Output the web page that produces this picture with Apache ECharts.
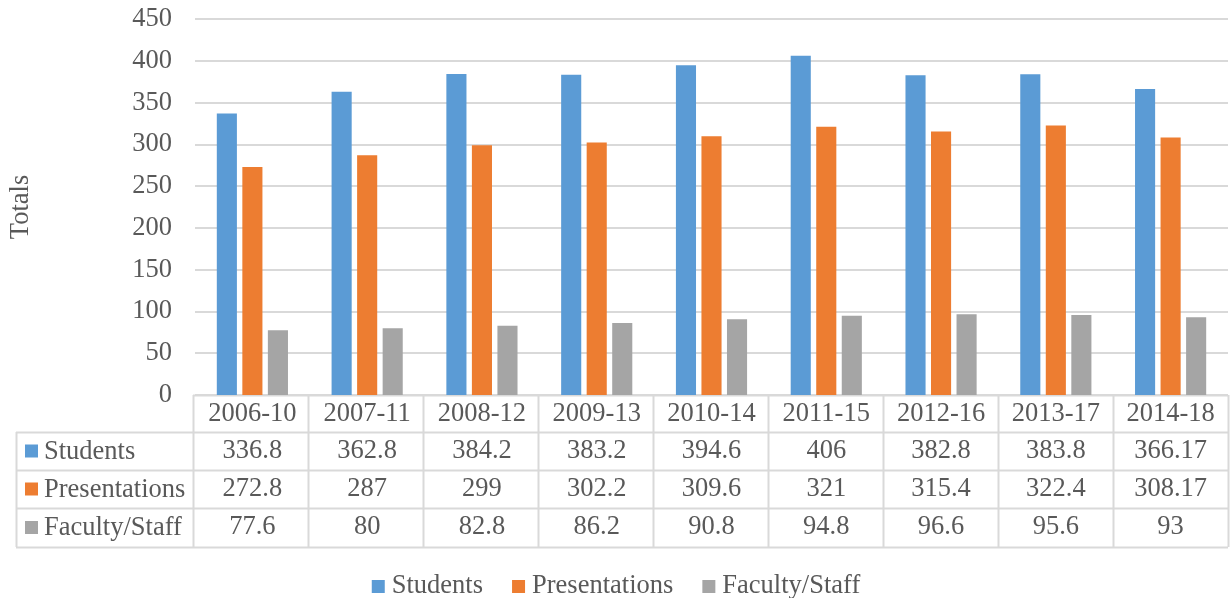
<!DOCTYPE html>
<html><head><meta charset="utf-8">
<script src="https://cdn.jsdelivr.net/npm/echarts@6/dist/echarts.min.js"></script>
<style>html,body{margin:0;padding:0;background:#fff}#c{width:1232px;height:598px}</style>
</head><body><div id="c"></div>
<script>
var categories = ['2006-10','2007-11','2008-12','2009-13','2010-14','2011-15','2012-16','2013-17','2014-18'];
var students = [336.8, 362.8, 384.2, 383.2, 394.6, 406, 382.8, 383.8, 366.17];
var presentations = [272.8, 287, 299, 302.2, 309.6, 321, 315.4, 322.4, 308.17];
var faculty = [77.6, 80, 82.8, 86.2, 90.8, 94.8, 96.6, 95.6, 93];
var seriesNames = ['Students','Presentations','Faculty/Staff'];
var colors = ['#5b9bd5','#ed7d31','#a5a5a5'];

var FONT = 'Liberation Serif';
var FS = 26.5;
var TXT = '#595959';
var LINE = '#d9d9d9';
var W = 1232, H = 598;
var gL = 193, gR = 1228, gT = 19, gB = 395;
var rows = [gB, gB + 37, gB + 75, gB + 113, gB + 152];
var tableLeft = 16;

var chart = echarts.init(document.getElementById('c'));
var rowData = [students, presentations, faculty];

var xAxes = [{
  type: 'category', data: categories, gridIndex: 0, position: 'bottom',
  axisLine: {show: false},
  axisTick: {show: false},
  axisLabel: {interval: 0, hideOverlap: false, color: TXT, fontFamily: FONT, fontSize: FS, lineHeight: FS, margin: 6}
}];
rowData.forEach(function (arr, i) {
  xAxes.push({
    type: 'category', data: categories, gridIndex: 0, position: 'bottom',
    offset: rows[i + 1] - gB,
    axisLine: {show: false}, axisTick: {show: false},
    axisLabel: {interval: 0, hideOverlap: false, color: TXT, fontFamily: FONT, fontSize: FS, lineHeight: FS, margin: 6,
      formatter: (function (a) { return function (v, idx) { return String(a[idx]); }; })(arr)}
  });
});

// table lines
var graphics = [];
function hline(x1, x2, y) {
  graphics.push({type: 'line', shape: {x1: x1, y1: y + 0.5, x2: x2, y2: y + 0.5}, style: {stroke: LINE, lineWidth: 2}, silent: true});
}
function vline(x, y1, y2) {
  graphics.push({type: 'line', shape: {x1: x + 0.5, y1: y1, x2: x + 0.5, y2: y2}, style: {stroke: LINE, lineWidth: 2}, silent: true});
}
hline(gL, gR, rows[0]);
for (var r = 1; r < rows.length; r++) hline(tableLeft, gR, rows[r]);
var colW = (gR - gL) / categories.length;
for (var c = 0; c <= categories.length; c++) vline(gL + c * colW, rows[0], rows[4]);
vline(tableLeft, rows[1], rows[4]);
seriesNames.forEach(function (n, i) {
  var cy = (rows[i + 1] + rows[i + 2]) / 2;
  graphics.push({type: 'rect', shape: {x: 25, y: cy - 6.5, width: 13, height: 13}, style: {fill: colors[i]}, silent: true});
  graphics.push({type: 'text', x: 44, y: cy + 1, style: {text: n, fill: TXT, font: FS + 'px "' + FONT + '"', verticalAlign: 'middle'}, silent: true});
});

var option = {
  animation: false,
  color: colors,
  textStyle: {fontFamily: FONT},
  grid: {left: gL, right: W - gR, top: gT, bottom: H - gB, containLabel: false},
  legend: {
    data: seriesNames, top: 568, left: 'center', icon: 'rect', itemWidth: 13, itemHeight: 13, itemGap: 29,
    textStyle: {color: TXT, fontFamily: FONT, fontSize: FS, lineHeight: FS, padding: [0, 0, 0, 2]}
  },
  xAxis: xAxes,
  yAxis: {
    type: 'value', min: 0, max: 450, interval: 50,
    name: 'Totals', nameLocation: 'middle', nameGap: 160, nameRotate: 90,
    nameTextStyle: {color: TXT, fontFamily: FONT, fontSize: FS},
    axisLine: {show: false}, axisTick: {show: false},
    axisLabel: {color: TXT, fontFamily: FONT, fontSize: FS, margin: 23},
    splitLine: {lineStyle: {color: LINE, width: 2}}
  },
  series: [
    {name: seriesNames[0], type: 'bar', data: students, barGap: '27%', barCategoryGap: '38%'},
    {name: seriesNames[1], type: 'bar', data: presentations, barGap: '27%', barCategoryGap: '38%'},
    {name: seriesNames[2], type: 'bar', data: faculty, barGap: '27%', barCategoryGap: '38%'}
  ],
  graphic: graphics
};
chart.setOption(option);
</script>
</body></html>
